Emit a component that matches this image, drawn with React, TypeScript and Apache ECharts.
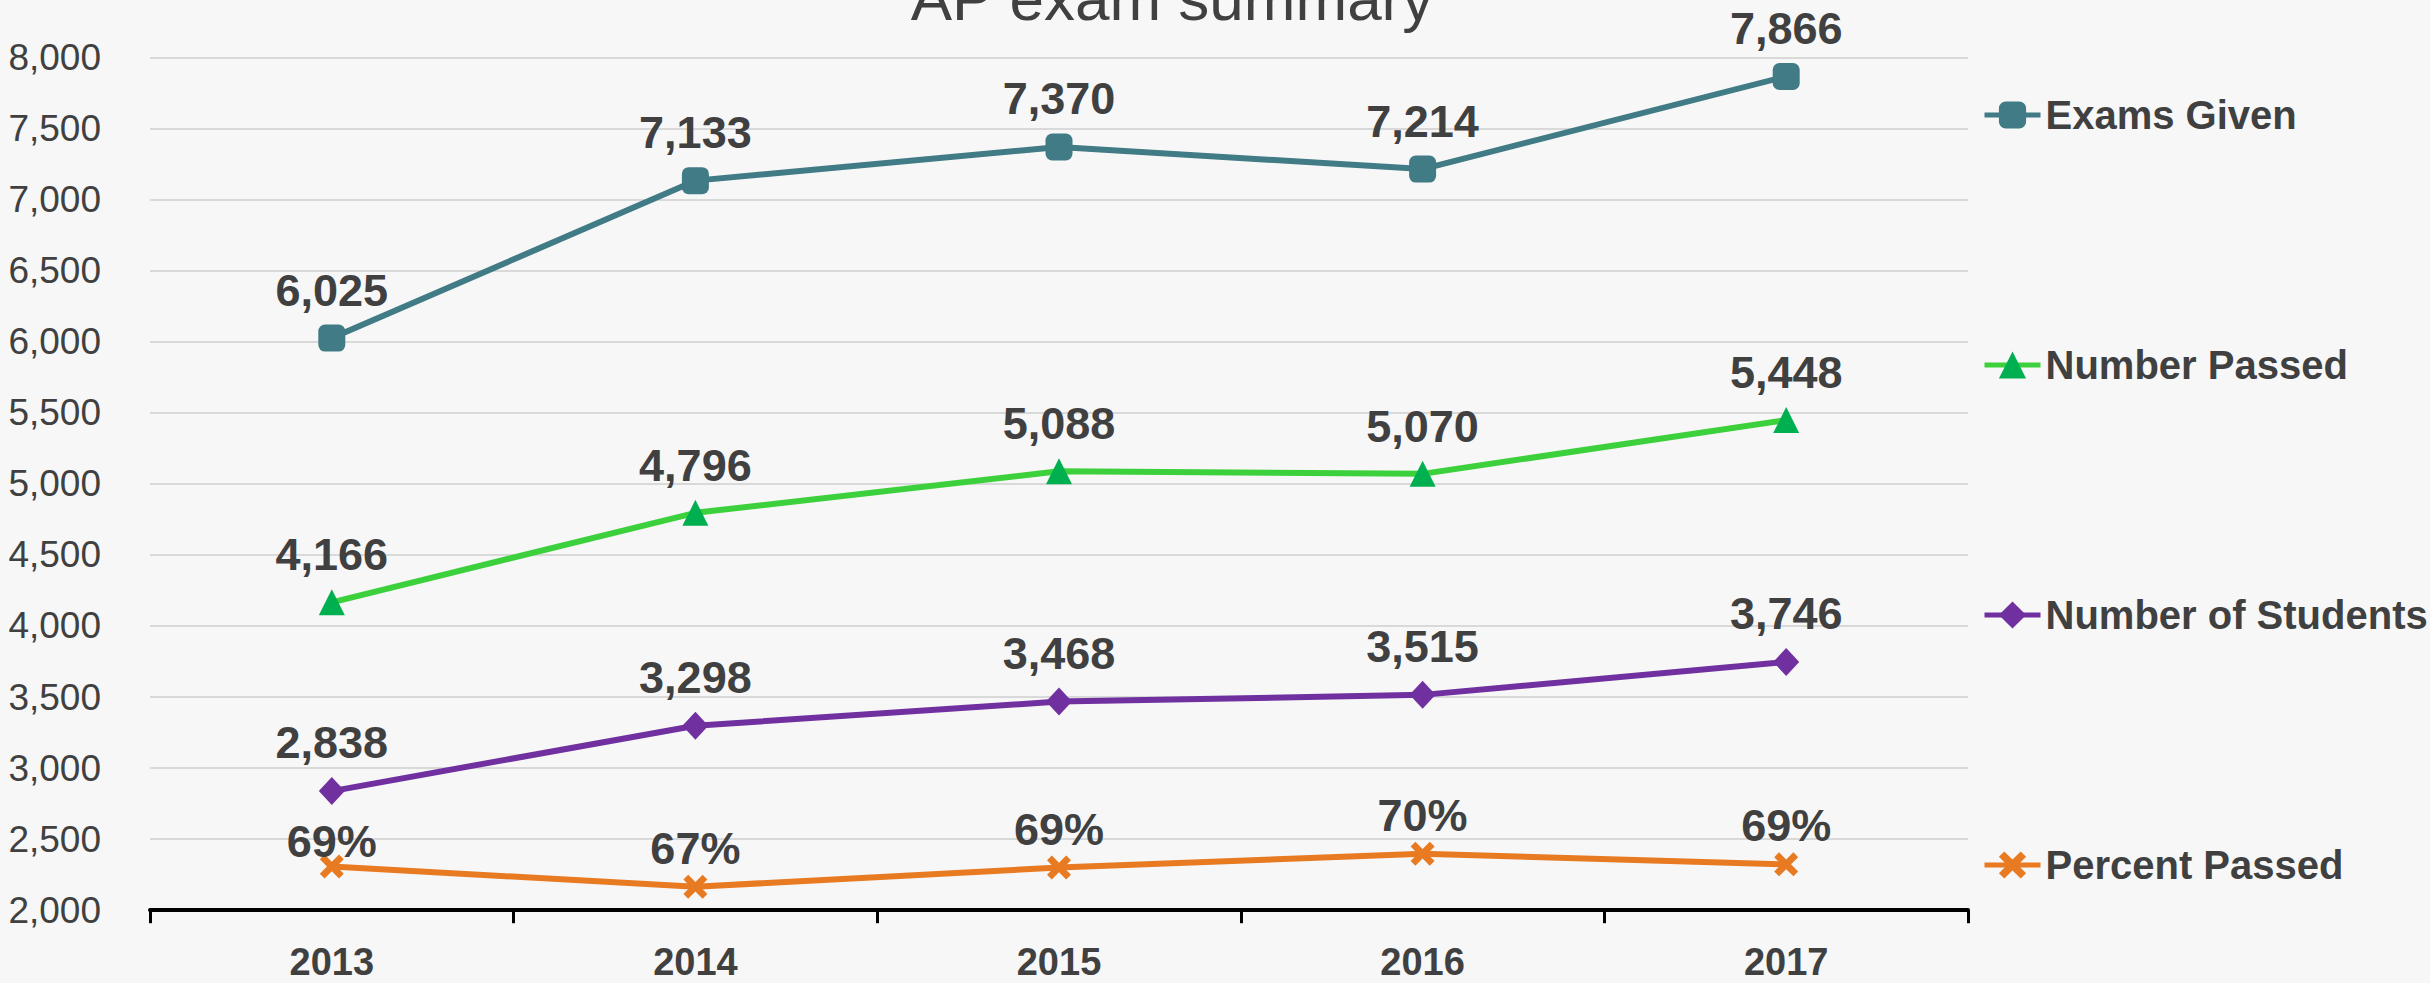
import React, { useEffect, useRef } from "react";
import * as echarts from "echarts";

const years = ["2013", "2014", "2015", "2016", "2017"];
const examsGiven = [6025, 7133, 7370, 7214, 7866];
const numberPassed = [4166, 4796, 5088, 5070, 5448];
const numberOfStudents = [2838, 3298, 3468, 3515, 3746];
const percentPassed = [69.1, 67.2, 69.0, 70.3, 69.3];
const titleText = "AP exam summary";

const FONT = "'Liberation Sans', Arial, sans-serif";
const TXT = "#404040";
const X_PATH = "path://M2,0 L5,3 L8,0 L10,2 L7,5 L10,8 L8,10 L5,7 L2,10 L0,8 L3,5 L0,2 Z";

export default function App() {
  const ref = useRef<HTMLDivElement>(null);
  useEffect(() => {
    if (!ref.current) return;
    const chart = echarts.init(ref.current, null, { renderer: "svg" });
    const numLabel = {
      show: true,
      position: "top",
      distance: 12,
      color: TXT,
      fontFamily: FONT,
      fontWeight: "bold",
      fontSize: 45,
      formatter: (p: any) => Number(p.value).toLocaleString("en-US"),
    };
    chart.setOption({
      animation: false,
      backgroundColor: "#f7f7f7",
      textStyle: { fontFamily: FONT },
      graphic: [
        {
          type: "text",
          x: 1172,
          y: -2,
          style: {
            text: titleText,
            fill: TXT,
            font: `62px ${FONT}`,
            align: "center",
            verticalAlign: "middle",
          },
        },
      ],
      legend: {
        orient: "vertical",
        left: 1977,
        top: 90,
        itemWidth: 56,
        itemHeight: 34,
        itemGap: 210,
        lineStyle: { width: 5 },
        textStyle: { color: TXT, fontFamily: FONT, fontWeight: "bold", fontSize: 40 },
      },
      grid: { left: 150, right: 462, top: 57.4, bottom: 72.8, containLabel: false },
      xAxis: {
        type: "category",
        data: years,
        boundaryGap: true,
        axisLine: { show: true, lineStyle: { color: "#000", width: 4 } },
        axisTick: { show: true, length: 13, lineStyle: { color: "#000", width: 3 } },
        axisLabel: { color: TXT, fontFamily: FONT, fontWeight: "bold", fontSize: 38, margin: 33 },
        splitLine: { show: false },
      },
      yAxis: [
        {
          type: "value",
          min: 2000,
          max: 8000,
          interval: 500,
          axisLine: { show: false },
          axisTick: { show: false },
          axisLabel: {
            color: TXT,
            fontFamily: FONT,
            fontSize: 37,
            margin: 49,
            formatter: (v: number) => v.toLocaleString("en-US"),
          },
          splitLine: { lineStyle: { color: "#d9d9d9", width: 2 } },
        },
        {
          type: "value",
          min: 65,
          max: 145,
          show: false,
          splitLine: { show: false },
        },
      ],
      series: [
        {
          name: "Exams Given",
          type: "line",
          data: examsGiven,
          symbol: "roundRect",
          symbolSize: 27,
          itemStyle: { color: "#417b85" },
          lineStyle: { color: "#417b85", width: 6 },
          label: numLabel,
        },
        {
          name: "Number Passed",
          type: "line",
          data: numberPassed,
          symbol: "triangle",
          symbolSize: 26,
          itemStyle: { color: "#00b050" },
          lineStyle: { color: "#3cd13c", width: 6 },
          label: numLabel,
        },
        {
          name: "Number of Students",
          type: "line",
          data: numberOfStudents,
          symbol: "diamond",
          symbolSize: [26, 28],
          itemStyle: { color: "#7030a0" },
          lineStyle: { color: "#7030a0", width: 6 },
          label: numLabel,
        },
        {
          name: "Percent Passed",
          type: "line",
          yAxisIndex: 1,
          data: percentPassed.map((v, i) =>
            i === 0 ? { value: v, label: { distance: -10 } } : v
          ),
          symbol: X_PATH,
          symbolSize: 24,
          itemStyle: { color: "#e87a22" },
          lineStyle: { color: "#e87a22", width: 6 },
          label: {
            ...numLabel,
            distance: 4,
            formatter: (p: any) => Math.round(Number(p.value)) + "%",
          },
        },
      ],
    });
    return () => chart.dispose();
  }, []);
  return (
    <div
      ref={ref}
      style={{ position: "absolute", left: 0, top: 0, width: 2430, height: 983 }}
    />
  );
}
